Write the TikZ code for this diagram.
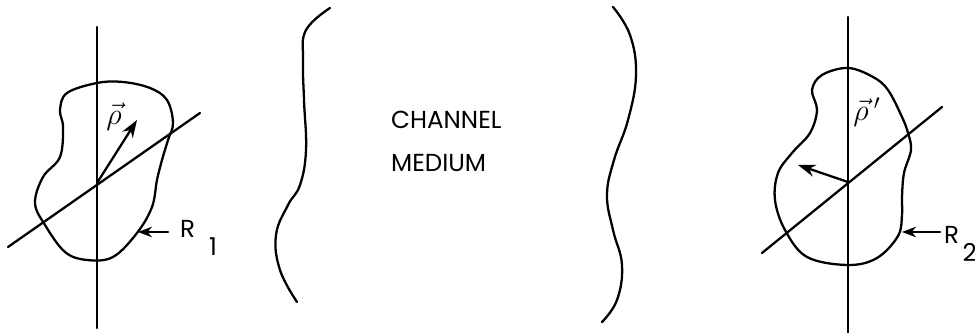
\documentclass[tikz,border=0pt]{standalone}
\usepackage{fontspec}
\setmainfont{Poppins}
\usetikzlibrary{arrows.meta}
\begin{document}
\begin{tikzpicture}[x=0.02cm, y=-0.02cm,
    stroke/.style={line width=1.3pt, line cap=round, line join=round},
    vector/.style={stroke, -{Stealth[length=10pt, width=7pt]}},
    pointer/.style={stroke, -{Stealth[length=8pt, width=6pt]}},
    label/.style={font=\fontsize{14}{16}\selectfont, inner sep=1pt},
    vlabel/.style={font=\fontsize{17}{18}\selectfont, inner sep=1pt}
]
\useasboundingbox (0,0) rectangle (975,333);

% Region R1 (left)
\draw[stroke] (97,27) -- (97,328);
\draw[stroke] (8,247) -- (200,113);
\draw[stroke] plot[smooth cycle, tension=0.6] coordinates {
    (97,83) (123,82) (150,88) (167,100) (173,123) (168,140) (162,160)
    (157,180) (152,207) (137,233) (113,257) (87,260) (65,252) (45,225)
    (35,203) (43,177) (60,157) (63,127) (60,110) (67,93)};
\coordinate (orig1) at (97,183);
\coordinate (tip1) at (137,120);
\draw[vector] (orig1) -- (tip1);
\node[vlabel] (rho1) at (114,117) {$\vec{\rho}$};
\coordinate (edge1) at (138,232);
\node[label, anchor=west] (lblR1) at (178,238) {R\kern8pt\raisebox{-1.3ex}{1}};
\draw[pointer] (168,232) -- (edge1);

% Channel
\draw[stroke] plot[smooth, tension=0.7] coordinates {
    (330,8) (306,30) (303,60) (304,100) (306,150) (300,185) (288,205)
    (276,235) (280,270) (297,302)};
\draw[stroke] plot[smooth, tension=0.7] coordinates {
    (613,7) (630,35) (636,75) (628,120) (614,160) (607,195) (613,230)
    (622,265) (617,300) (602,322)};
\node[label, align=left, anchor=north west, font=\fontsize{14}{24.4}\selectfont] (chan) at (389,109)
    {CHANNEL\\MEDIUM};

% Region R2 (right)
\draw[stroke] (848,17) -- (848,333);
\draw[stroke] (762,253) -- (942,107);
\draw[stroke] plot[smooth cycle, tension=0.6] coordinates {
    (848,68) (873,77) (888,90) (902,117) (908,133) (911,150) (904,173)
    (902,197) (902,215) (898,236) (877,258) (848,265) (807,257) (785,230)
    (775,200) (778,173) (792,153) (810,133) (817,110) (812,90) (822,75)};
\coordinate (orig2) at (848,182);
\coordinate (tip2) at (798,165);
\draw[vector] (orig2) -- (tip2);
\node[vlabel] (rho2) at (867,112) {$\vec{\rho}\,'$};
\coordinate (edge2) at (902,232);
\node[label, anchor=west] (lblR2) at (942,244) {R\kern2pt\raisebox{-1.3ex}{2}};
\draw[pointer] (940,232) -- (edge2);

\end{tikzpicture}
\end{document}
